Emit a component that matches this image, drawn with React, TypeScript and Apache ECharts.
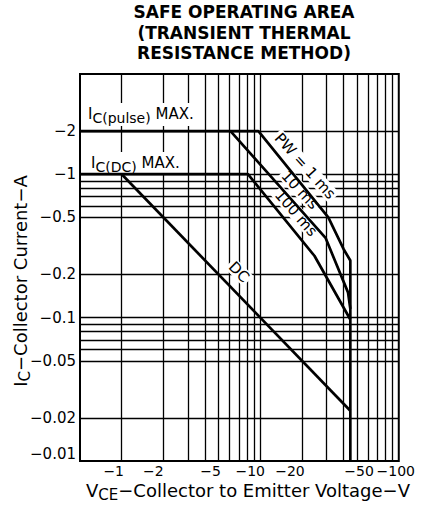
import React, { useEffect, useRef } from 'react';
import * as echarts from 'echarts';

// ---- data (magnitudes; labels carry the minus sign) ----
const xTickValues = [1, 2, 5, 10, 20, 50, 100];
const xTickLabels = ['−1', '−2', '−5', '−10', '−20', '−50', '−100'];
const yTickValues = [0.01, 0.02, 0.05, 0.1, 0.2, 0.5, 1, 2];
const yTickLabels = ['−0.01', '−0.02', '−0.05', '−0.1', '−0.2', '−0.5', '−1', '−2'];

const xGridValues = [1, 2, 3, 4, 5, 6, 7, 8, 9, 10, 20, 30, 40, 50, 60, 70, 80, 90];
const yGridValues = [0.02, 0.05, 0.06, 0.07, 0.08, 0.09, 0.1, 0.2, 0.5, 0.6, 0.7, 0.8, 0.9, 1, 2];

// V_CE (V), I_C (A)
const pw1ms = [[0.5, 2], [9.7, 2], [31, 0.5], [40, 0.3], [44.7, 0.25], [44.7, 0.01]];
const pw10ms = [[6.1, 2], [29.6, 0.36], [43, 0.15], [44.7, 0.115]];
const pw100ms = [[0.5, 1], [8.15, 1], [24.6, 0.27], [44.7, 0.097]];
const dcLine = [[1, 1], [44.7, 0.0224]];

// ---- layout / style (not data) ----
const FONT = 'DejaVu Sans';
const xLabelShift = [-8, -10, -8, -10, -12, 2, -3];
const yLabelShift = [-7, 0, 0, 0, 0, 0, 0, 0];

function idxOf(arr: number[], v: number) {
  let best = 0;
  for (let i = 0; i < arr.length; i++) {
    if (Math.abs(Math.log(arr[i]) - Math.log(v)) < Math.abs(Math.log(arr[best]) - Math.log(v))) best = i;
  }
  return best;
}

const xRich: Record<string, any> = {};
xLabelShift.forEach((d, i) => {
  xRich['x' + i] = { lineHeight: 14, padding: d < 0 ? [0, -2 * d, 0, 0] : [0, 0, 0, 2 * d] };
});
const yRich: Record<string, any> = {};
yLabelShift.forEach((d, i) => {
  yRich['y' + i] = { padding: d < 0 ? [0, 0, -2 * d, 0] : [2 * d, 0, 0, 0] };
});

const subRich = (n: number, s: number, shift: number) => ({
  n: { fontSize: n, fontFamily: FONT, fill: '#000', verticalAlign: 'top' },
  s: { fontSize: s, fontFamily: FONT, fill: '#000', verticalAlign: 'top', padding: [shift, 0, 0, 0] },
});

export default function App() {
  const ref = useRef<HTMLDivElement>(null);
  useEffect(() => {
    if (!ref.current) return;
    const chart = echarts.init(ref.current, undefined, { renderer: 'svg' });
    const curve = (name: string, data: number[][]) => ({
      type: 'line',
      name,
      data,
      showSymbol: false,
      symbol: 'none',
      silent: true,
      clip: true,
      z: 3,
      lineStyle: { color: '#000', width: 2.7 },
    });
    const rotLabel = (text: string, x: number, y: number, deg: number) => ({
      type: 'text',
      x,
      y,
      rotation: (deg * Math.PI) / 180,
      z: 2,
      silent: true,
      style: {
        text,
        fontFamily: FONT,
        fontSize: 15,
        fill: '#000',
        align: 'center',
        verticalAlign: 'middle',
        backgroundColor: '#fff',
        padding: [0, 2, 0, 2],
      },
    });
    chart.setOption({
      animation: false,
      backgroundColor: '#fff',
      grid: {
        left: 80,
        top: 74,
        width: 329,
        height: 387,
        show: true,
        borderColor: '#000',
        borderWidth: 2,
        backgroundColor: 'transparent',
      },
      xAxis: {
        type: 'log',
        logBase: 10,
        min: 0.5,
        max: 100,
        axisLine: { show: false },
        axisTick: { show: false },
        splitLine: { show: false },
        minorTick: { show: false },
        axisLabel: {
          customValues: xTickValues,
          margin: 3,
          color: '#000',
          fontFamily: FONT,
          fontSize: 14,
          lineHeight: 14,
          formatter: (v: number) => {
            const i = idxOf(xTickValues, v);
            return '{x' + i + '|' + xTickLabels[i] + '}';
          },
          rich: xRich,
        },
      },
      yAxis: {
        type: 'log',
        logBase: 10,
        min: 0.01,
        max: 5,
        axisLine: { show: false },
        axisTick: { show: false },
        splitLine: { show: false },
        minorTick: { show: false },
        axisLabel: {
          customValues: yTickValues,
          margin: 4,
          color: '#000',
          fontFamily: FONT,
          fontSize: 15,
          formatter: (v: number) => {
            const i = idxOf(yTickValues, v);
            return '{y' + i + '|' + yTickLabels[i] + '}';
          },
          rich: yRich,
        },
      },
      series: [
        {
          type: 'line',
          name: 'grid',
          data: [],
          z: 1,
          silent: true,
          markLine: {
            silent: true,
            z: 1,
            symbol: ['none', 'none'],
            label: { show: false },
            emphasis: { disabled: true },
            lineStyle: { color: '#000', width: 1.3, type: 'solid' },
            data: [
              ...xGridValues.map((v) => ({ xAxis: v })),
              ...yGridValues.map((v) => ({ yAxis: v })),
            ],
          },
        },
        curve('PW = 1 ms', pw1ms),
        curve('10 ms', pw10ms),
        curve('100 ms', pw100ms),
        curve('DC', dcLine),
      ],
      graphic: [
        {
          type: 'text',
          x: 244,
          y: 2,
          z: 2,
          silent: true,
          style: {
            text: 'SAFE OPERATING AREA\n(TRANSIENT THERMAL\nRESISTANCE METHOD)',
            fontFamily: FONT,
            fontWeight: 'bold',
            fontSize: 17,
            lineHeight: 20.5,
            fill: '#000',
            align: 'center',
            verticalAlign: 'top',
          },
        },
        {
          type: 'text',
          x: 85,
          y: 103,
          z: 2,
          silent: true,
          style: {
            text: '{n|I}{s|C(pulse)}{n| MAX.}',
            rich: subRich(15, 14, 5),
            fontFamily: FONT,
            fontSize: 15,
            fill: '#000',
            align: 'left',
            verticalAlign: 'top',
            backgroundColor: '#fff',
            padding: [3, 3, 1, 3],
          },
        },
        {
          type: 'text',
          x: 88,
          y: 152,
          z: 2,
          silent: true,
          style: {
            text: '{n|I}{s|C(DC)}{n| MAX.}',
            rich: subRich(15, 14, 5),
            fontFamily: FONT,
            fontSize: 15,
            fill: '#000',
            align: 'left',
            verticalAlign: 'top',
            backgroundColor: '#fff',
            padding: [3, 3, 0, 3],
          },
        },
        rotLabel('PW = 1 ms', 305, 166, -48),
        rotLabel('10 ms', 300, 190, -47),
        rotLabel('100 ms', 296, 213, -49),
        rotLabel('DC', 239, 272, -45),
        {
          type: 'text',
          x: 248,
          y: 481,
          z: 2,
          silent: true,
          style: {
            text: '{n|V}{s|CE}{n|−Collector to Emitter Voltage−V}',
            rich: subRich(18, 15, 6),
            fontFamily: FONT,
            fontSize: 18,
            fill: '#000',
            align: 'center',
            verticalAlign: 'top',
          },
        },
        {
          type: 'text',
          x: 22,
          y: 281,
          rotation: Math.PI / 2,
          z: 2,
          silent: true,
          style: {
            text: '{n|I}{s|C}{n|−Collector Current−A}',
            rich: subRich(18, 15, 6),
            fontFamily: FONT,
            fontSize: 18,
            fill: '#000',
            align: 'center',
            verticalAlign: 'middle',
          },
        },
      ],
    });
    return () => chart.dispose();
  }, []);
  return (
    <div
      ref={ref}
      style={{ position: 'absolute', left: 0, top: 0, width: 424, height: 513 }}
    />
  );
}
